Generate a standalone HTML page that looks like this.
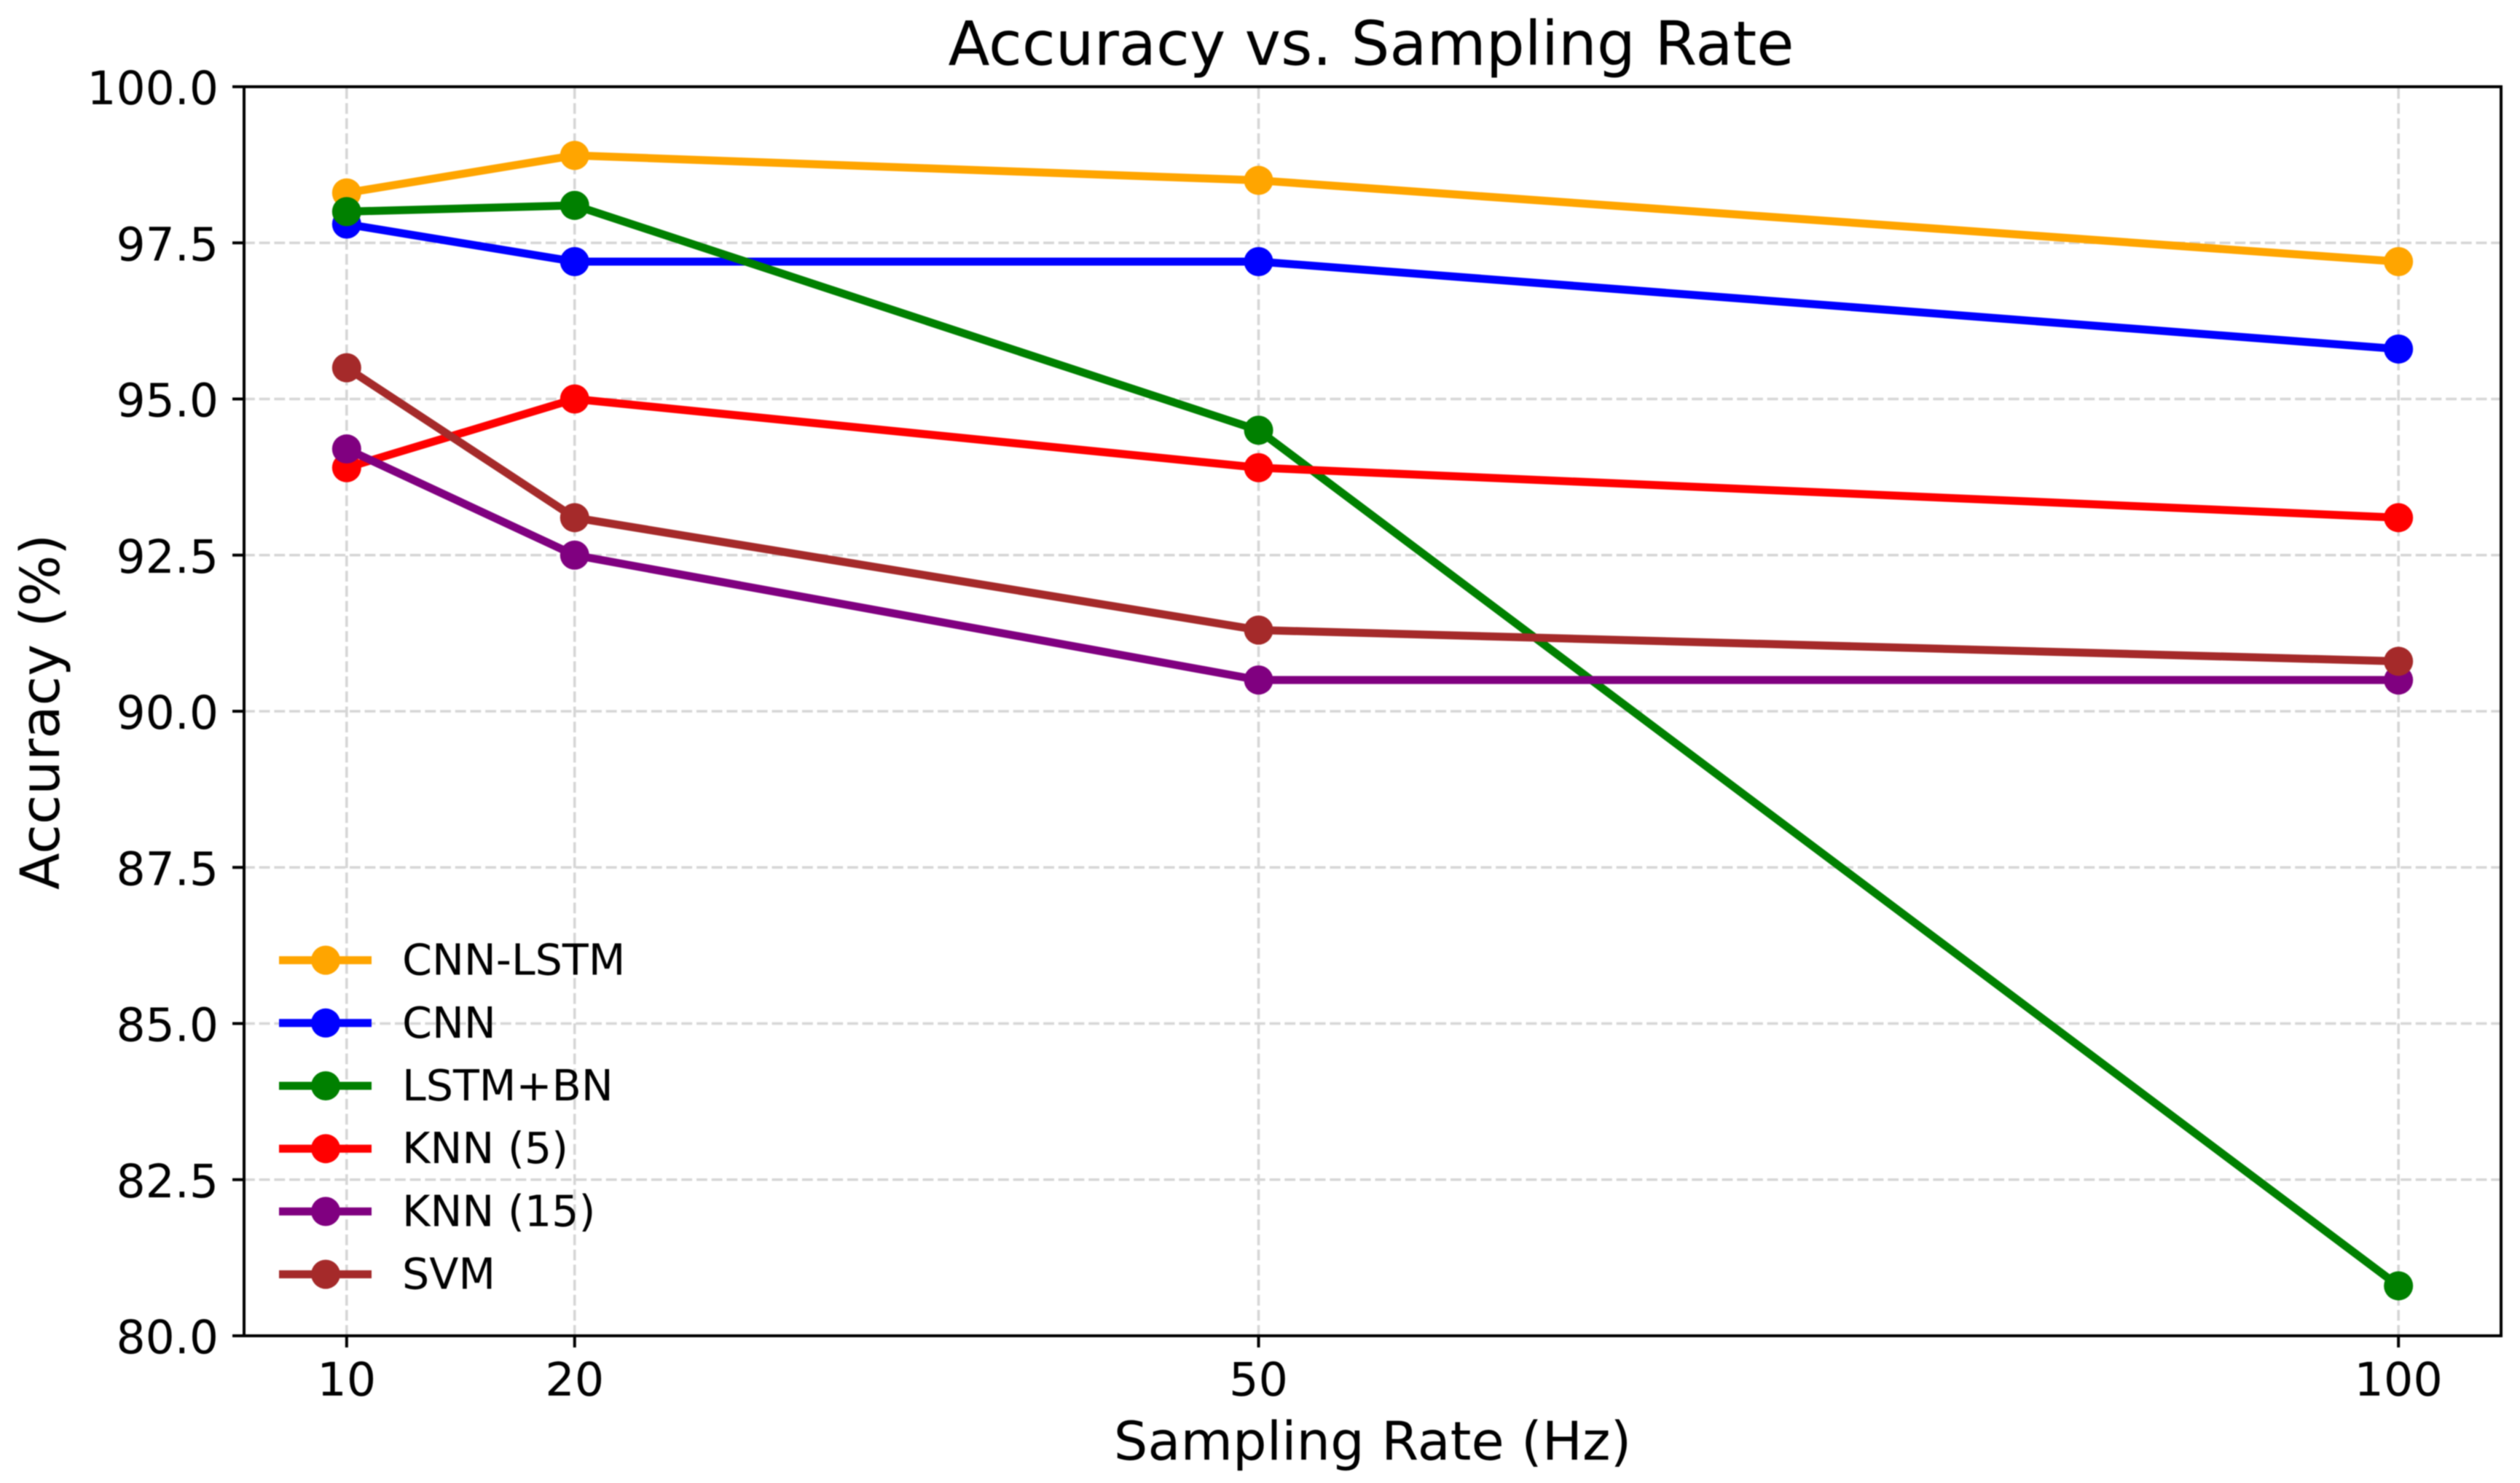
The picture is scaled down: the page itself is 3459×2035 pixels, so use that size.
<!DOCTYPE html>
<html lang="en">
<head>
<meta charset="utf-8">
<title>Accuracy vs. Sampling Rate</title>
<style>
  html, body { margin: 0; padding: 0; background: #fff; }
  body { width: 3459px; height: 2035px; overflow: hidden; }
  svg { display: block; filter: blur(0.7px); }
  text { font-family: "DejaVu Sans", "Liberation Sans", sans-serif; fill: #000; }
</style>
</head>
<body>
<svg id="chart" xmlns="http://www.w3.org/2000/svg" width="3459" height="2035" viewBox="0 0 3459 2035">
  <rect x="0" y="0" width="3459" height="2035" fill="#ffffff"/>
  <g id="grid"></g>
  <g id="series"></g>
  <g id="axes"></g>
  <g id="legend"></g>
  <text x="1882" y="89" font-size="83.4" text-anchor="middle">Accuracy vs. Sampling Rate</text>
  <text x="1884" y="2003" font-size="73.5" text-anchor="middle">Sampling Rate (Hz)</text>
  <text x="81" y="977" font-size="73.8" text-anchor="middle" transform="rotate(-90 81 977)">Accuracy (%)</text>
</svg>
<script>
const samplingRates = [10, 20, 50, 100];
const yTickValues = [80, 82.5, 85, 87.5, 90, 92.5, 95, 97.5, 100];
const yTickLabels = ['80.0', '82.5', '85.0', '87.5', '90.0', '92.5', '95.0', '97.5', '100.0'];
const xTickLabels = ['10', '20', '50', '100'];
const seriesNames = ['CNN-LSTM', 'CNN', 'LSTM+BN', 'KNN (5)', 'KNN (15)', 'SVM'];
const seriesColors = ['orange', 'blue', 'green', 'red', 'purple', 'brown'];
const cnnLstmValues = [98.3, 98.9, 98.5, 97.2];
const cnnValues = [97.8, 97.2, 97.2, 95.8];
const lstmBnValues = [98.0, 98.1, 94.5, 80.8];
const knn5Values = [93.9, 95.0, 93.9, 93.1];
const knn15Values = [94.2, 92.5, 90.5, 90.5];
const svmValues = [95.5, 93.1, 91.3, 90.8];
const seriesValues = [cnnLstmValues, cnnValues, lstmBnValues, knn5Values, knn15Values, svmValues];

const PLOT_LEFT = 335, PLOT_RIGHT = 3433, PLOT_TOP = 119, PLOT_BOTTOM = 1833;
const X_MIN = 5.5, X_MAX = 104.5, Y_MIN = 80, Y_MAX = 100;
const NS = 'http://www.w3.org/2000/svg';

function xScale(v) { return PLOT_LEFT + (v - X_MIN) / (X_MAX - X_MIN) * (PLOT_RIGHT - PLOT_LEFT); }
function yScale(v) { return PLOT_BOTTOM - (v - Y_MIN) / (Y_MAX - Y_MIN) * (PLOT_BOTTOM - PLOT_TOP); }
function make(tag, attrs, parent) {
  const el = document.createElementNS(NS, tag);
  for (const k in attrs) el.setAttribute(k, attrs[k]);
  parent.appendChild(el);
  return el;
}
function slug(s) { return s.toLowerCase().replace(/[^a-z0-9]+/g, '-').replace(/-$/, ''); }

const gridG = document.getElementById('grid');
const seriesG = document.getElementById('series');
const axesG = document.getElementById('axes');
const legendG = document.getElementById('legend');
const GRID_STYLE = { stroke: '#d6d6d6', 'stroke-width': 3.6, 'stroke-dasharray': '14.8 5.9', fill: 'none' };

yTickValues.forEach(function (v, i) {
  const y = yScale(v);
  if (v > Y_MIN && v < Y_MAX) {
    const g = make('line', Object.assign({ x1: PLOT_LEFT, x2: PLOT_RIGHT, y1: y, y2: y }, GRID_STYLE), gridG);
    
    
  }
  const t = make('line', { x1: PLOT_LEFT - 16, x2: PLOT_LEFT, y1: y, y2: y, stroke: '#000', 'stroke-width': 4 }, axesG);
  
  
  const l = make('text', { x: 300, y: y + 24, 'font-size': 63.1, 'text-anchor': 'end' }, axesG);
  
  
  l.textContent = yTickLabels[i];
});

samplingRates.forEach(function (v, i) {
  const x = xScale(v);
  const g = make('line', Object.assign({ x1: x, x2: x, y1: PLOT_BOTTOM, y2: PLOT_TOP }, GRID_STYLE), gridG);
  
  
  const t = make('line', { x1: x, x2: x, y1: PLOT_BOTTOM, y2: PLOT_BOTTOM + 16, stroke: '#000', 'stroke-width': 4 }, axesG);
  
  
  const l = make('text', { x: x, y: 1915, 'font-size': 63.7, 'text-anchor': 'middle' }, axesG);
  
  
  l.textContent = xTickLabels[i];
});

const frame = make('rect', { x: PLOT_LEFT, y: PLOT_TOP, width: PLOT_RIGHT - PLOT_LEFT, height: PLOT_BOTTOM - PLOT_TOP, fill: 'none', stroke: '#000', 'stroke-width': 4 }, axesG);



seriesNames.forEach(function (name, s) {
  const color = seriesColors[s];
  const values = seriesValues[s];
  const group = make('g', {}, seriesG);
  
  
  const pts = values.map(function (v, i) { return xScale(samplingRates[i]) + ',' + yScale(v); }).join(' ');
  const line = make('polyline', { points: pts, fill: 'none', stroke: color, 'stroke-width': 11, 'stroke-linejoin': 'round' }, group);
  
  
  values.forEach(function (v, i) {
    const c = make('circle', { cx: xScale(samplingRates[i]), cy: yScale(v), r: 20, fill: color }, group);
    
    
  });

  const ly = 1317.6 + s * 86.2;
  const entry = make('g', {}, legendG);
  
  
  const ll = make('line', { x1: 383, x2: 510, y1: ly, y2: ly, stroke: color, 'stroke-width': 11 }, entry);
  
  
  const lc = make('circle', { cx: 447, cy: ly, r: 20, fill: color }, entry);
  
  
  const lt = make('text', { x: 552, y: ly + 20, 'font-size': 58.7 }, entry);
  
  
  lt.textContent = name;
});
</script>
</body>
</html>
